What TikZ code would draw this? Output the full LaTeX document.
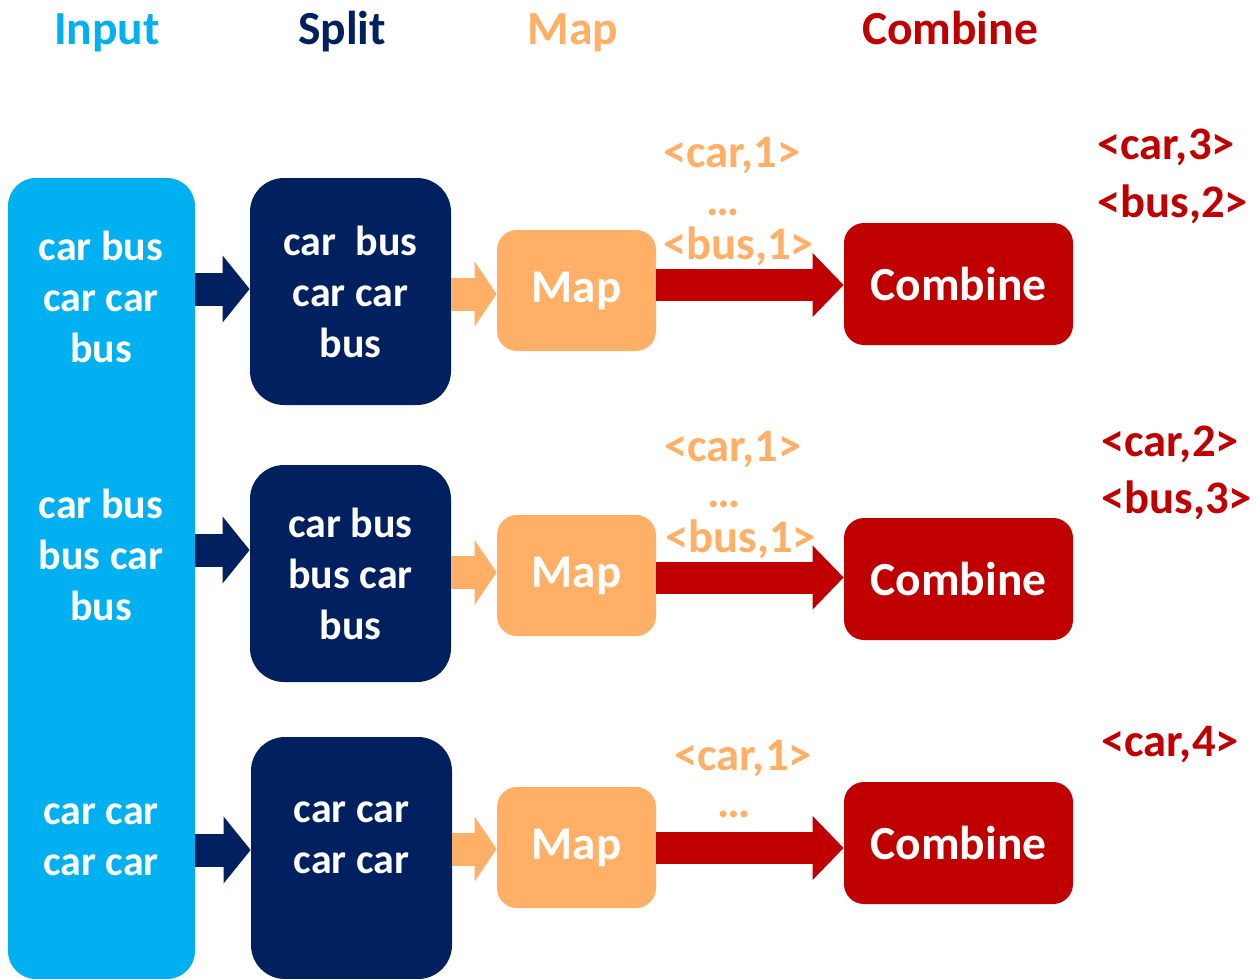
\documentclass[tikz,border=0pt]{standalone}
\usepackage{fontspec}
\setmainfont{Carlito}
\usetikzlibrary{arrows.meta}
\definecolor{inblue}{HTML}{00B0F0}
\definecolor{navy}{HTML}{002060}
\definecolor{maporange}{HTML}{FFB066}
\definecolor{darkred}{HTML}{C00000}
\tikzset{
  heading/.style={anchor=base, font=\bfseries\fontsize{23.75}{28}\selectfont},
  boxtext/.style={text=white, align=center, font=\bfseries\fontsize{21}{25.5}\selectfont},
  inputbox/.style={fill=inblue, rounded corners=14pt, minimum width=93.5pt, minimum height=400.5pt, inner sep=0pt},
  splitbox/.style={fill=navy, rounded corners=17pt, minimum width=100.5pt, inner sep=0pt, boxtext},
  mapbox/.style={fill=maporange, rounded corners=10pt, minimum width=79.5pt, minimum height=60.5pt, inner sep=0pt,
    text=white, font=\bfseries\fontsize{23.5}{28}\selectfont},
  combinebox/.style={fill=darkred, rounded corners=10pt, minimum width=114.5pt, minimum height=61pt, inner sep=0pt,
    text=white, font=\bfseries\fontsize{23.75}{28}\selectfont},
  pair/.style={anchor=base west, inner sep=0pt, font=\bfseries\fontsize{23.3}{28}\selectfont},
  mappair/.style={pair, text=maporange},
  outpair/.style={pair, text=darkred},
  dots/.style={anchor=base, inner sep=0pt, text=maporange, font=\bfseries\fontsize{23.3}{28}\selectfont},
  navyarrow/.style={draw=navy, line width=16.5pt, -{Triangle[length=13.5pt, width=33.5pt, line width=0pt]}},
  orangearrow/.style={draw=maporange, line width=16.5pt, -{Triangle[length=11pt, width=32.5pt, line width=0pt]}},
  redarrow/.style={draw=darkred, line width=16pt, -{Triangle[length=15.5pt, width=32pt, line width=0pt]}},
}
\begin{document}
\begin{tikzpicture}[x=0.5pt, y=-0.5pt]
\useasboundingbox (0,0) rectangle (1258,979);
\clip (0,0) rectangle (1258,979);

% column headings
\node[heading, text=inblue] (hin) at (107,45) {Input};
\node[heading, text=navy] (hsp) at (342,45) {Split};
\node[heading, text=maporange] (hmap) at (573,45) {Map};
\node[heading, text=darkred] (hcomb) at (950,45) {Combine};

% input column
\node[inputbox] (inp) at (101.5,578.5) {};
\node[boxtext] (in1) at (101,297) {car bus\\car car\\bus};
\node[boxtext] (in2) at (101,554.5) {car bus\\bus car\\bus};
\node[boxtext] (in3) at (101,840) {car car\\car car};

% split blocks
\node[splitbox, minimum height=113.5pt] (sp1) at (350.5,291.5) {car\ \ bus\\car car\\bus};
\node[splitbox, minimum height=108.5pt] (sp2) at (350.5,573.5) {car bus\\bus car\\bus};
\node[splitbox, minimum height=121pt] (sp3) at (351.5,858) {};
\node[boxtext] (sp3t) at (351.5,838) {car car\\car car};

% map blocks
\node[mapbox] (map1) at (576.5,290.5) {Map};
\node[mapbox] (map2) at (576.5,575.5) {Map};
\node[mapbox] (map3) at (576.5,847.5) {Map};

% combine blocks
\node[combinebox] (comb1) at (958.5,284) {Combine};
\node[combinebox] (comb2) at (958.5,579) {Combine};
\node[combinebox] (comb3) at (958.5,843) {Combine};

% input -> split
\draw[navyarrow] ([yshift=1.25pt]sp1.west -| inp.east) -- ([yshift=1.25pt]sp1.west);
\draw[navyarrow] ([yshift=11.75pt]sp2.west -| inp.east) -- ([yshift=11.75pt]sp2.west);
\draw[navyarrow] ([yshift=4pt]sp3.west -| inp.east) -- ([yshift=4pt]sp3.west);

% split -> map
\draw[orangearrow] ([yshift=-1.75pt]map1.west -| sp1.east) -- ([yshift=-1.75pt]map1.west);
\draw[orangearrow] ([yshift=1.5pt]map2.west -| sp2.east) -- ([yshift=1.5pt]map2.west);
\draw[orangearrow] ([yshift=-0.75pt]map3.west -| sp3.east) -- ([yshift=-0.75pt]map3.west);

% map -> combine
\draw[redarrow] ([yshift=-0.5pt]comb1.west -| map1.east) -- ([yshift=-0.5pt]comb1.west);
\draw[redarrow] ([yshift=0.75pt]comb2.west -| map2.east) -- ([yshift=0.75pt]comb2.west);
\draw[redarrow] ([yshift=-2.5pt]comb3.west -| map3.east) -- ([yshift=-2.5pt]comb3.west);

% intermediate pairs
\node[mappair] (m1a) at (663,168) {<car,1>};
\node[dots] (m1b) at (723,215) {…};
\node[mappair] (m1c) at (663,259) {<bus,1>};
\node[mappair] (m2a) at (664,461) {<car,1>};
\node[dots] (m2b) at (724,507) {…};
\node[mappair] (m2c) at (665,552) {<bus,1>};
\node[mappair] (m3a) at (674,770) {<car,1>};
\node[dots] (m3b) at (734,817) {…};

% final counts
\node[outpair] (o1a) at (1097,160) {<car,3>};
\node[outpair] (o1b) at (1097,217) {<bus,2>};
\node[outpair] (o2a) at (1101,456) {<car,2>};
\node[outpair] (o2b) at (1101,513) {<bus,3>};
\node[outpair] (o3a) at (1101,756) {<car,4>};
\end{tikzpicture}
\end{document}
